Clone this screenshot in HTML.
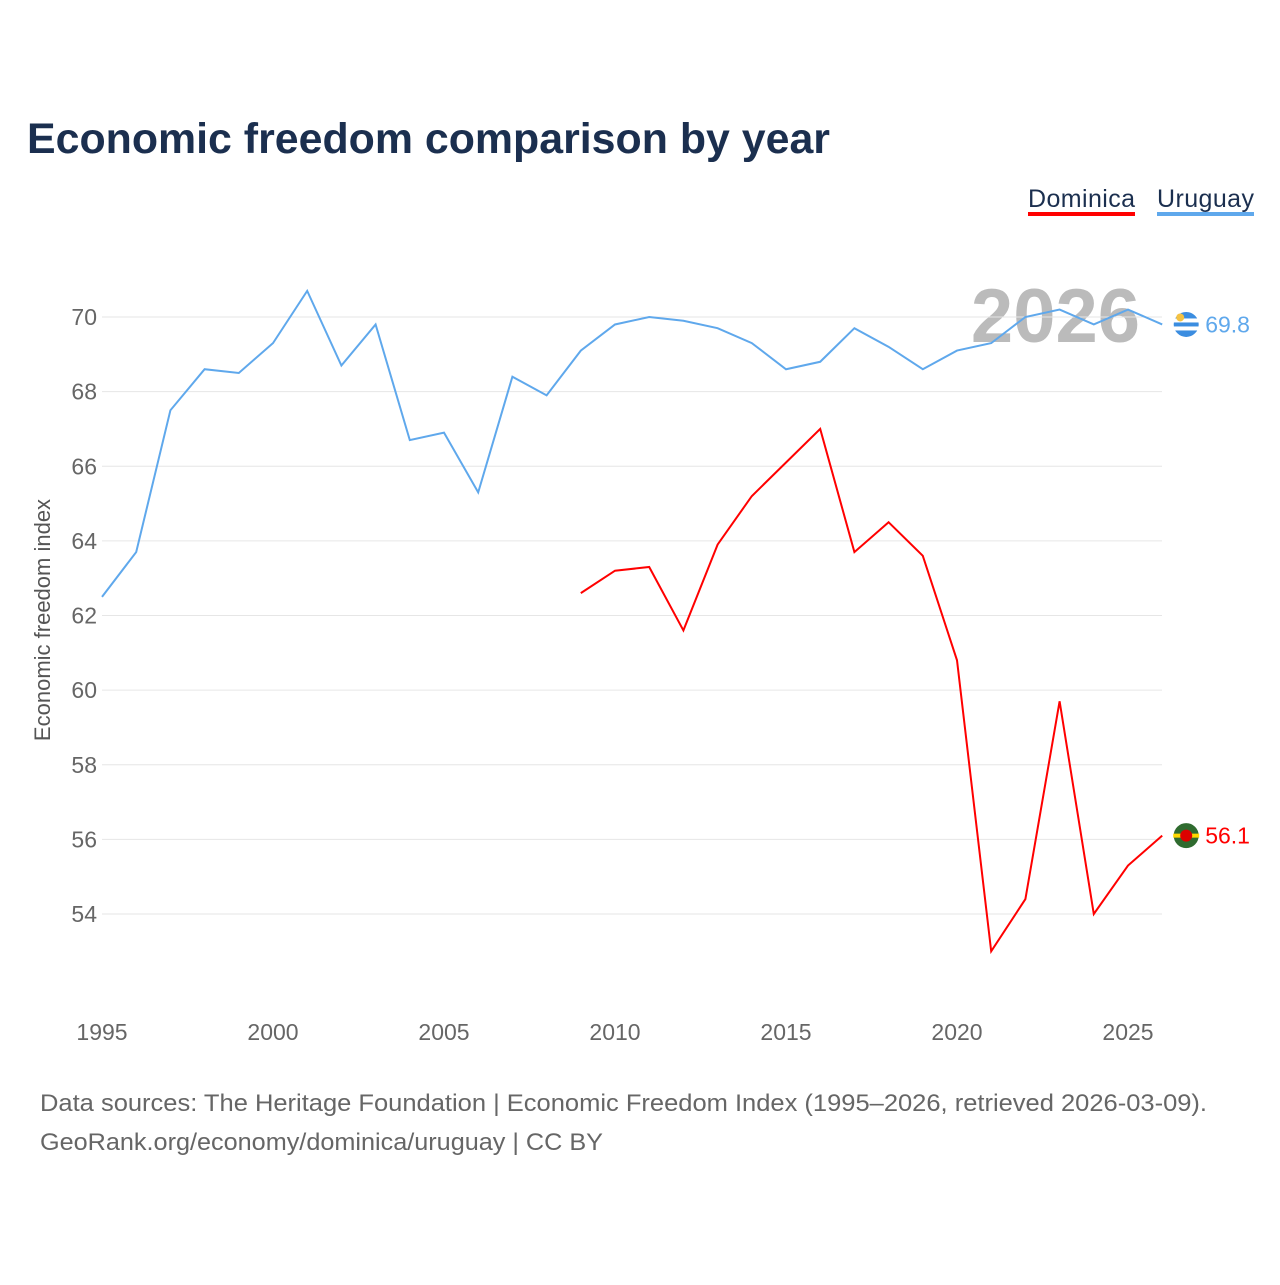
<!DOCTYPE html>
<html><head><meta charset="utf-8"><style>
body{margin:0;background:#fff;font-family:"Liberation Sans",sans-serif}
</style></head><body>
<svg id="chart" width="1280" height="1280" xmlns="http://www.w3.org/2000/svg" font-family="Liberation Sans, sans-serif">
<text x="27" y="153" font-size="43" font-weight="bold" fill="#1b2f4f" textLength="803" lengthAdjust="spacingAndGlyphs">Economic freedom comparison by year</text>
<g>
<text x="1028" y="207" font-size="25" fill="#1b2f4f" textLength="107">Dominica</text>
<rect x="1028" y="212" width="107" height="4" fill="#ff0000"/>
<text x="1157" y="207" font-size="25" fill="#1b2f4f" textLength="97">Uruguay</text>
<rect x="1157" y="212" width="97" height="4" fill="#5fa8ec"/>
</g>
<text x="1140" y="342" font-size="76" font-weight="bold" fill="#bbb" text-anchor="end">2026</text>
<text transform="translate(50,620) rotate(-90)" font-size="22" fill="#555" text-anchor="middle">Economic freedom index</text>
<g id="grid"></g><g id="xt"></g><g id="lines"></g>
<text x="40" y="1111" font-size="24" fill="#666" textLength="1167" lengthAdjust="spacingAndGlyphs">Data sources: The Heritage Foundation | Economic Freedom Index (1995–2026, retrieved 2026-03-09).</text>
<text x="40" y="1150" font-size="24" fill="#666" textLength="563" lengthAdjust="spacingAndGlyphs">GeoRank.org/economy/dominica/uruguay | CC BY</text>
</svg>
<script>
const years=[1995,1996,1997,1998,1999,2000,2001,2002,2003,2004,2005,2006,2007,2008,2009,2010,2011,2012,2013,2014,2015,2016,2017,2018,2019,2020,2021,2022,2023,2024,2025,2026];
const uruguay=[62.5,63.7,67.5,68.6,68.5,69.3,70.7,68.7,69.8,66.7,66.9,65.3,68.4,67.9,69.1,69.8,70.0,69.9,69.7,69.3,68.6,68.8,69.7,69.2,68.6,69.1,69.3,70.0,70.2,69.8,70.2,69.8];
const dominicaYears=[2009,2010,2011,2012,2013,2014,2015,2016,2017,2018,2019,2020,2021,2022,2023,2024,2025,2026];
const dominica=[62.6,63.2,63.3,61.6,63.9,65.2,66.1,67.0,63.7,64.5,63.6,60.8,53.0,54.4,59.7,54.0,55.3,56.1];
const yTicks=[54,56,58,60,62,64,66,68,70];
const xTicks=[1995,2000,2005,2010,2015,2020,2025];
const NS="http://www.w3.org/2000/svg";
const X=y=>102+(y-1995)*(1026/30);
const Y=v=>317+(70-v)*(597/16);
function mk(t,a,p){const e=document.createElementNS(NS,t);for(const k in a)e.setAttribute(k,a[k]);p.appendChild(e);return e;}
const grid=document.getElementById('grid');
yTicks.forEach(v=>{
 const l=mk('line',{x1:102,x2:1162,y1:Y(v),y2:Y(v),stroke:'#e6e6e6','stroke-width':1},grid);
 
 
 const t=mk('text',{x:97,y:Y(v)+8,'font-size':23,fill:'#666','text-anchor':'end'},grid);
 t.textContent=v;
 
 
});
const xt=document.getElementById('xt');
xTicks.forEach(v=>{
 const t=mk('text',{x:X(v),y:1040,'font-size':23,fill:'#666','text-anchor':'middle'},xt);
 t.textContent=v;
 
 
});
const lines=document.getElementById('lines');
function series(xs,vs,col,name){
 const p=mk('path',{d:xs.map((x,i)=>(i?'L':'M')+X(x)+','+Y(vs[i])).join(''),fill:'none',stroke:col,'stroke-width':2},lines);
 
 
 const lx=X(xs[xs.length-1]),ly=Y(vs[vs.length-1]);
 const c=mk('circle',{cx:lx+24,cy:ly,r:13,fill:name==='dominica'?'#2f6b2f':'#3b8de0',stroke:'#fff','stroke-width':1},lines);
 
 
 if(name==='uruguay'){mk('rect',{x:lx+11,y:ly-6,width:26,height:4,fill:'#fff'},lines);mk('rect',{x:lx+11,y:ly+2,width:26,height:4,fill:'#fff'},lines);mk('circle',{cx:lx+18,cy:ly-7,r:4,fill:'#f5c242'},lines);}
 else{mk('rect',{x:lx+11,y:ly-2,width:26,height:4,fill:'#ffd700'},lines);mk('circle',{cx:lx+24,cy:ly,r:6,fill:'#d00'},lines);}
 const t=mk('text',{x:lx+43,y:ly+8,'font-size':23,fill:col,'font-weight':500},lines);
 t.textContent=vs[vs.length-1].toFixed(1);
 
 
}
series(years,uruguay,'#5fa8ec','uruguay');
series(dominicaYears,dominica,'#ff0000','dominica');
</script>
</body></html>
